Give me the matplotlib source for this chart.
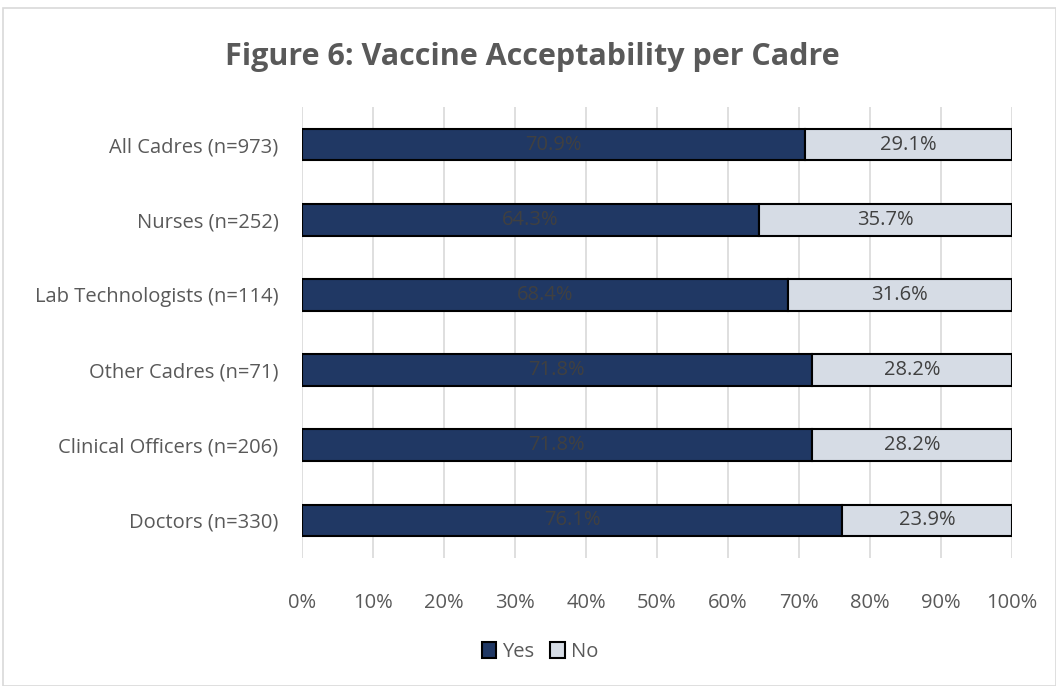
import matplotlib.pyplot as plt
import matplotlib.patches as mpatches
import numpy as np

categories = ["Doctors (n=330)", "Clinical Officers (n=206)", "Other Cadres (n=71)",
              "Lab Technologists (n=114)", "Nurses (n=252)", "All Cadres (n=973)"]
yes_pct = [76.1, 71.8, 71.8, 68.4, 64.3, 70.9]
no_pct = [23.9, 28.2, 28.2, 31.6, 35.7, 29.1]

plt.rcParams['font.family'] = ['Open Sans', 'DejaVu Sans']
gray = '#595959'
yes_color = '#203864'
no_color = '#D6DCE5'

fig = plt.figure(figsize=(10.56, 6.86), dpi=100)
ax = fig.add_axes([302 / 1056, 1 - 558 / 686, 710 / 1056, 451 / 686])

y = np.arange(len(categories))
ax.barh(y, yes_pct, height=0.42, color=yes_color, edgecolor='black', linewidth=1.5, label='Yes', zorder=3)
ax.barh(y, no_pct, left=yes_pct, height=0.42, color=no_color, edgecolor='black', linewidth=1.5, label='No', zorder=3)

for i in range(len(categories)):
    ax.text(yes_pct[i] / 2, y[i], f"{yes_pct[i]:.1f}%", ha='center', va='center',
            fontsize=14.5, color='#404040', zorder=4)
    ax.text(yes_pct[i] + no_pct[i] / 2, y[i], f"{no_pct[i]:.1f}%", ha='center', va='center',
            fontsize=14.5, color='#404040', zorder=4)

ax.set_xlim(0, 100)
ax.set_ylim(-0.5, len(categories) - 0.5)
ax.set_xticks(np.arange(0, 101, 10))
ax.set_xticklabels([f"{v}%" for v in range(0, 101, 10)])
ax.set_yticks(y)
ax.set_yticklabels(categories)
ax.tick_params(axis='both', length=0, labelsize=14.5, colors=gray)
ax.tick_params(axis='x', pad=25)
ax.tick_params(axis='y', pad=17)
ax.grid(axis='x', color='#D9D9D9', linewidth=1.2, zorder=0)
for s in ax.spines.values():
    s.set_visible(False)

fig.text(532 / 1056, 1 - 57 / 686, "Figure 6: Vaccine Acceptability per Cadre", ha='center', va='center',
         fontsize=22, fontweight='bold', color=gray)

handles = [mpatches.Patch(facecolor=yes_color, edgecolor='black', linewidth=1.5, label='Yes'),
           mpatches.Patch(facecolor=no_color, edgecolor='black', linewidth=1.5, label='No')]
fig.legend(handles=handles, loc='center', bbox_to_anchor=(540 / 1056, 1 - 652 / 686), ncol=2, frameon=False,
           fontsize=14.5, labelcolor=gray, handlelength=0.7, handleheight=0.8, handletextpad=0.3, columnspacing=0.8)

border = mpatches.Rectangle((3 / 1056, 0), 1 - 3 / 1056, 1 - 8 / 686, transform=fig.transFigure,
                            fill=False, edgecolor='#D9D9D9', linewidth=1.2)
fig.patches.append(border)

fig.savefig('out.png', dpi=100)
